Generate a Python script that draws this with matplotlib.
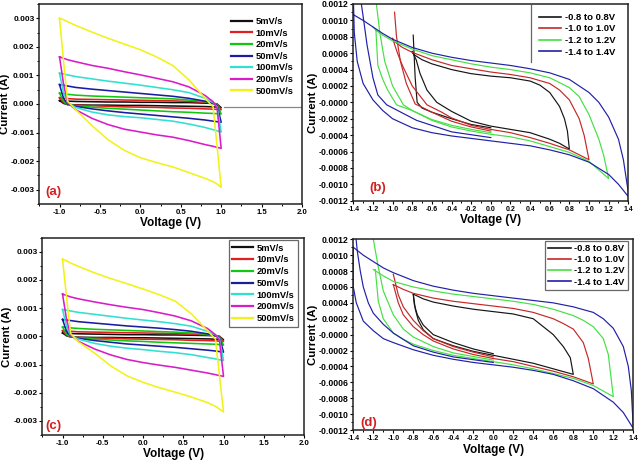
import matplotlib
matplotlib.use('Agg')
import matplotlib.pyplot as plt
from matplotlib.lines import Line2D
from matplotlib.ticker import MultipleLocator, FormatStrFormatter

plt.rcParams['font.family'] = ['Liberation Sans', 'DejaVu Sans']
plt.rcParams['font.weight'] = 'bold'
plt.rcParams['axes.labelweight'] = 'bold'
plt.rcParams['axes.unicode_minus'] = False

# ---- scan-rate panels (a) and (c); currents in mA ----
rates = ['5mV/s', '10mV/s', '20mV/s', '50mV/s', '100mV/s', '200mV/s', '500mV/s']
rate_colors = ['#101010', '#e02020', '#10c810', '#1c1ca0', '#30e0d0', '#d81cc8', '#f2f21a']
v_sweep = [-1.0, -0.95, -0.9, -0.8, -0.6, -0.4, -0.2, 0.0, 0.2, 0.4, 0.6, 0.8, 0.9, 0.95, 1.0]

a_upper = [
    [0.12, 0.11, 0.1, 0.09, 0.08, 0.07, 0.07, 0.06, 0.06, 0.05, 0.05, 0.03, 0.02, 0.0, -0.13],
    [0.22, 0.2, 0.19, 0.17, 0.16, 0.15, 0.14, 0.13, 0.12, 0.11, 0.09, 0.06, 0.03, 0.0, -0.2],
    [0.38, 0.36, 0.34, 0.31, 0.28, 0.26, 0.24, 0.22, 0.2, 0.18, 0.14, 0.08, 0.03, -0.02, -0.35],
    [0.68, 0.66, 0.63, 0.58, 0.52, 0.47, 0.42, 0.37, 0.32, 0.27, 0.2, 0.1, 0.02, -0.05, -0.64],
    [1.08, 1.05, 1.02, 0.96, 0.88, 0.8, 0.73, 0.66, 0.58, 0.5, 0.4, 0.2, 0.05, -0.1, -0.98],
    [1.65, 1.6, 1.55, 1.48, 1.35, 1.25, 1.13, 1.02, 0.9, 0.78, 0.6, 0.3, 0.08, -0.15, -1.55],
    [3.0, 2.95, 2.88, 2.75, 2.52, 2.3, 2.1, 1.9, 1.65, 1.35, 0.85, 0.2, -0.1, -1.5, -2.92],
]
a_lower = [
    [0.12, 0.02, -0.02, -0.03, -0.04, -0.04, -0.05, -0.05, -0.06, -0.07, -0.08, -0.09, -0.1, -0.11, -0.13],
    [0.22, 0.05, -0.02, -0.04, -0.06, -0.08, -0.1, -0.11, -0.12, -0.14, -0.15, -0.17, -0.18, -0.19, -0.2],
    [0.38, 0.1, -0.02, -0.06, -0.11, -0.15, -0.18, -0.21, -0.24, -0.27, -0.29, -0.32, -0.33, -0.34, -0.35],
    [0.68, 0.2, 0.0, -0.08, -0.17, -0.24, -0.3, -0.35, -0.4, -0.45, -0.5, -0.56, -0.6, -0.62, -0.64],
    [1.08, 0.4, 0.05, -0.12, -0.28, -0.38, -0.44, -0.48, -0.54, -0.6, -0.7, -0.82, -0.9, -0.94, -0.98],
    [1.65, 0.7, 0.05, -0.2, -0.5, -0.72, -0.88, -0.98, -1.08, -1.16, -1.28, -1.42, -1.48, -1.52, -1.55],
    [3.0, 1.5, 0.1, -0.2, -0.75, -1.25, -1.62, -1.88, -2.05, -2.2, -2.4, -2.6, -2.72, -2.8, -2.92],
]
c_upper = [
    [0.12, 0.11, 0.1, 0.09, 0.08, 0.07, 0.06, 0.06, 0.05, 0.05, 0.04, 0.03, 0.02, 0.0, -0.12],
    [0.2, 0.19, 0.18, 0.16, 0.15, 0.14, 0.13, 0.12, 0.11, 0.1, 0.08, 0.05, 0.03, 0.0, -0.18],
    [0.33, 0.32, 0.3, 0.28, 0.25, 0.23, 0.21, 0.19, 0.17, 0.15, 0.12, 0.07, 0.03, -0.02, -0.31],
    [0.6, 0.58, 0.56, 0.52, 0.47, 0.42, 0.37, 0.33, 0.29, 0.24, 0.18, 0.09, 0.02, -0.04, -0.56],
    [0.95, 0.93, 0.9, 0.85, 0.78, 0.71, 0.64, 0.58, 0.52, 0.45, 0.36, 0.18, 0.05, -0.08, -0.86],
    [1.5, 1.45, 1.4, 1.33, 1.22, 1.12, 1.03, 0.95, 0.84, 0.72, 0.55, 0.28, 0.06, -0.15, -1.42],
    [2.74, 2.68, 2.6, 2.48, 2.25, 2.05, 1.87, 1.68, 1.48, 1.25, 0.8, 0.2, -0.1, -1.4, -2.68],
]
c_lower = [
    [0.12, 0.02, -0.02, -0.03, -0.04, -0.04, -0.05, -0.05, -0.06, -0.07, -0.08, -0.09, -0.1, -0.11, -0.12],
    [0.2, 0.04, -0.02, -0.04, -0.06, -0.07, -0.09, -0.1, -0.11, -0.12, -0.14, -0.15, -0.16, -0.17, -0.18],
    [0.33, 0.08, -0.02, -0.05, -0.1, -0.13, -0.16, -0.18, -0.21, -0.23, -0.25, -0.27, -0.28, -0.29, -0.31],
    [0.6, 0.18, 0.0, -0.07, -0.15, -0.21, -0.27, -0.31, -0.35, -0.39, -0.44, -0.49, -0.52, -0.54, -0.56],
    [0.95, 0.35, 0.03, -0.1, -0.25, -0.35, -0.42, -0.47, -0.53, -0.58, -0.65, -0.75, -0.8, -0.83, -0.86],
    [1.5, 0.6, 0.05, -0.18, -0.45, -0.66, -0.82, -0.93, -1.02, -1.1, -1.2, -1.3, -1.36, -1.39, -1.42],
    [2.74, 1.4, 0.1, -0.2, -0.6, -1.05, -1.4, -1.63, -1.82, -1.98, -2.15, -2.35, -2.48, -2.58, -2.68],
]

# ---- potential-window panels (b) and (d); currents in mA ----
windows = ['-0.8 to 0.8V', '-1.0 to 1.0V', '-1.2 to 1.2V', '-1.4 to 1.4V']
win_colors = ['#151515', '#c42828', '#44e044', '#2020a8']

b_up_v = [
    [-0.8, -0.78, -0.7, -0.6, -0.4, -0.2, 0.0, 0.2, 0.4, 0.5, 0.6, 0.7, 0.75, 0.78, 0.8],
    [-1.0, -0.98, -0.9, -0.8, -0.6, -0.4, -0.2, 0.0, 0.2, 0.4, 0.6, 0.7, 0.8, 0.9, 0.95, 1.0],
    [-1.2, -1.17, -1.1, -1.0, -0.8, -0.6, -0.4, -0.2, 0.0, 0.2, 0.4, 0.6, 0.8, 0.9, 1.0, 1.1, 1.15, 1.2],
    [-1.4, -1.3, -1.2, -1.1, -1.0, -0.8, -0.6, -0.4, -0.2, 0.0, 0.2, 0.4, 0.6, 0.8, 1.0, 1.1, 1.2, 1.3, 1.35, 1.4],
]
b_up_i = [
    [0.62, 0.58, 0.52, 0.47, 0.40, 0.35, 0.32, 0.30, 0.26, 0.21, 0.12, -0.05, -0.2, -0.35, -0.57],
    [0.78, 0.74, 0.67, 0.61, 0.52, 0.45, 0.41, 0.37, 0.34, 0.30, 0.23, 0.15, 0.03, -0.2, -0.4, -0.70],
    [0.92, 0.88, 0.82, 0.75, 0.65, 0.57, 0.52, 0.47, 0.43, 0.40, 0.36, 0.30, 0.18, 0.07, -0.15, -0.45, -0.65, -0.93],
    [1.07, 1.0, 0.92, 0.84, 0.77, 0.67, 0.60, 0.55, 0.51, 0.48, 0.45, 0.41, 0.36, 0.28, 0.12, 0.0, -0.18, -0.45, -0.7, -1.1],
]
b_lo_v = [
    [0.8, 0.7, 0.6, 0.4, 0.2, 0.0, -0.2, -0.4, -0.55, -0.65, -0.72, -0.76, -0.8],
    [1.0, 0.8, 0.6, 0.4, 0.2, 0.0, -0.2, -0.4, -0.5, -0.65, -0.8, -0.9, -0.95, -1.0],
    [1.2, 1.0, 0.8, 0.6, 0.4, 0.2, 0.0, -0.2, -0.4, -0.6, -0.8, -0.96, -1.05, -1.1, -1.15, -1.17],
    [1.4, 1.3, 1.2, 1.0, 0.8, 0.6, 0.4, 0.2, 0.0, -0.2, -0.4, -0.6, -0.8, -1.0, -1.1, -1.2, -1.3, -1.36, -1.39, -1.4],
]
b_lo_i = [
    [-0.57, -0.50, -0.45, -0.37, -0.33, -0.29, -0.23, -0.11, 0.0, 0.15, 0.35, 0.52, 0.62],
    [-0.70, -0.58, -0.50, -0.43, -0.37, -0.33, -0.28, -0.19, -0.12, -0.03, 0.2, 0.45, 0.6, 0.78],
    [-0.93, -0.72, -0.61, -0.54, -0.47, -0.42, -0.39, -0.35, -0.30, -0.22, -0.1, -0.03, 0.15, 0.28, 0.45, 0.88],
    [-1.15, -1.0, -0.88, -0.73, -0.64, -0.58, -0.53, -0.50, -0.47, -0.44, -0.41, -0.37, -0.31, -0.2, -0.1, 0.03, 0.23, 0.5, 0.85, 1.3],
]
b_sp_v = [
    [0.0, -0.2, -0.4, -0.6, -0.7, -0.75, -0.77, -0.79],
    [0.0, -0.2, -0.4, -0.6, -0.7, -0.77, -0.86, -0.92, -0.96, -0.98],
    [0.0, -0.2, -0.4, -0.6, -0.8, -0.89, -1.0, -1.08, -1.13, -1.17],
    [0.0, -0.4, -0.755, -0.9, -1.06, -1.15, -1.2, -1.26, -1.3, -1.33],
]
b_sp_i = [
    [-0.31, -0.27, -0.2, -0.12, -0.07, 0.0, 0.3, 0.82],
    [-0.35, -0.3, -0.23, -0.12, -0.06, -0.02, 0.23, 0.5, 0.8, 1.1],
    [-0.37, -0.33, -0.28, -0.21, -0.1, -0.03, 0.2, 0.5, 0.85, 1.25],
    [-0.43, -0.36, -0.22, -0.13, -0.03, 0.09, 0.3, 0.7, 1.05, 1.3],
]

d_up_v = [
    [-0.8, -0.7, -0.6, -0.4, -0.2, 0.0, 0.2, 0.4, 0.5, 0.6, 0.7, 0.77, 0.8],
    [-1.0, -0.9, -0.8, -0.6, -0.4, -0.2, 0.0, 0.2, 0.4, 0.6, 0.7, 0.8, 0.9, 0.95, 1.0],
    [-1.2, -1.1, -1.0, -0.8, -0.6, -0.4, -0.2, 0.0, 0.2, 0.4, 0.6, 0.8, 0.9, 1.0, 1.1, 1.15, 1.2],
    [-1.4, -1.3, -1.2, -1.1, -1.0, -0.8, -0.6, -0.4, -0.2, 0.0, 0.2, 0.4, 0.6, 0.8, 1.0, 1.1, 1.2, 1.3, 1.35, 1.38, 1.4],
]
d_up_i = [
    [0.51, 0.45, 0.41, 0.36, 0.32, 0.29, 0.26, 0.20, 0.10, 0.0, -0.15, -0.29, -0.50],
    [0.63, 0.57, 0.52, 0.46, 0.42, 0.39, 0.36, 0.33, 0.28, 0.2, 0.14, 0.07, -0.1, -0.3, -0.62],
    [0.82, 0.74, 0.67, 0.6, 0.55, 0.51, 0.48, 0.45, 0.42, 0.38, 0.32, 0.24, 0.18, 0.1, -0.05, -0.25, -0.78],
    [1.1, 1.0, 0.92, 0.84, 0.78, 0.68, 0.61, 0.56, 0.52, 0.49, 0.46, 0.43, 0.4, 0.35, 0.28, 0.2, 0.08, -0.15, -0.4, -0.7, -1.18],
]
d_lo_v = [
    [0.8, 0.6, 0.4, 0.2, 0.0, -0.2, -0.4, -0.6, -0.7, -0.75, -0.78, -0.8],
    [1.0, 0.8, 0.6, 0.4, 0.2, 0.0, -0.2, -0.4, -0.6, -0.7, -0.8, -0.9, -0.95, -1.0],
    [1.2, 1.0, 0.8, 0.6, 0.4, 0.2, 0.0, -0.2, -0.4, -0.6, -0.8, -0.9, -1.0, -1.1, -1.15, -1.18],
    [1.4, 1.3, 1.2, 1.0, 0.8, 0.6, 0.4, 0.2, 0.0, -0.2, -0.4, -0.6, -0.8, -1.0, -1.1, -1.2, -1.3, -1.37, -1.4, -1.4],
]
d_lo_i = [
    [-0.50, -0.43, -0.36, -0.31, -0.26, -0.21, -0.14, -0.05, 0.06, 0.18, 0.32, 0.51],
    [-0.62, -0.53, -0.46, -0.40, -0.34, -0.30, -0.25, -0.18, -0.08, 0.0, 0.1, 0.25, 0.4, 0.63],
    [-0.78, -0.64, -0.55, -0.49, -0.43, -0.38, -0.34, -0.30, -0.26, -0.2, -0.12, -0.06, 0.02, 0.2, 0.42, 0.82],
    [-1.18, -0.98, -0.85, -0.68, -0.58, -0.5, -0.45, -0.41, -0.38, -0.35, -0.31, -0.26, -0.19, -0.1, -0.05, 0.05, 0.17, 0.4, 0.6, 1.1],
]
d_sp_v = [
    [0.0, -0.2, -0.4, -0.6, -0.7, -0.76, -0.79, -0.8],
    [0.0, -0.2, -0.4, -0.6, -0.7, -0.8, -0.9, -0.95, -1.0],
    [0.0, -0.4, -0.6, -0.8, -0.9, -1.0, -1.1, -1.15, -1.2],
    [0.0, -0.4, -0.6, -0.8, -1.0, -1.1, -1.2, -1.25, -1.3, -1.33, -1.36, -1.38],
]
d_sp_i = [
    [-0.24, -0.18, -0.1, 0.0, 0.12, 0.25, 0.38, 0.5],
    [-0.28, -0.22, -0.15, -0.05, 0.05, 0.18, 0.35, 0.5, 0.76],
    [-0.32, -0.23, -0.15, -0.03, 0.07, 0.25, 0.55, 0.85, 1.2],
    [-0.35, -0.28, -0.22, -0.14, 0.02, 0.13, 0.27, 0.4, 0.6, 0.8, 1.05, 1.3],
]

fig = plt.figure(figsize=(6.4, 4.62), dpi=100)


def px_axes(l, t, r, b):
    return fig.add_axes([l / 640, 1 - b / 462, (r - l) / 640, (b - t) / 462])


def style(ax, xfmt, yfmt, xmaj, xmin, ymaj, ymin, xfs, yfs):
    ax.xaxis.set_major_locator(MultipleLocator(xmaj))
    ax.xaxis.set_minor_locator(MultipleLocator(xmin))
    ax.yaxis.set_major_locator(MultipleLocator(ymaj))
    ax.yaxis.set_minor_locator(MultipleLocator(ymin))
    ax.xaxis.set_major_formatter(FormatStrFormatter(xfmt))
    ax.yaxis.set_major_formatter(FormatStrFormatter(yfmt))
    ax.tick_params(which='major', direction='out', length=2.5, width=0.8, pad=1)
    ax.tick_params(which='minor', direction='out', length=1.6, width=0.7)
    ax.tick_params(axis='x', labelsize=xfs)
    ax.tick_params(axis='y', labelsize=yfs)
    for s in ax.spines.values():
        s.set_linewidth(1.1)
        s.set_color('#222222')
    ax.set_xlabel('Voltage (V)', fontsize=8.5)
    ax.set_ylabel('Current (A)', fontsize=8.2)


def rate_panel(ax, upper, lower, letter, lx, ly):
    for k in range(len(rates)):
        xs = v_sweep + v_sweep[::-1]
        ys = [u * 1e-3 for u in upper[k]] + [w * 1e-3 for w in lower[k][::-1]]
        ax.plot(xs, ys, color=rate_colors[k], lw=1.15)
    ax.set_xlim(-1.25, 2.0)
    ax.set_ylim(-0.0035, 0.0035)
    style(ax, '%.1f', '%.3f', 0.5, 0.25, 0.001, 0.0005, 5.6, 6.0)
    ax.text(lx, ly, letter, transform=ax.transAxes, color='#d42020',
            fontsize=9.5, ha='left', va='center')


def window_panel(ax, up_v, up_i, lo_v, lo_i, sp_v, sp_i, letter, lx, ly):
    for k in range(len(windows)):
        ax.plot(up_v[k] + lo_v[k], [c * 1e-3 for c in up_i[k] + lo_i[k]],
                color=win_colors[k], lw=0.85)
        ax.plot(sp_v[k], [c * 1e-3 for c in sp_i[k]], color=win_colors[k], lw=0.85)
    ax.set_xlim(-1.4, 1.4)
    ax.set_ylim(-0.0012, 0.0012)
    style(ax, '%.1f', '%.4f', 0.2, 0.1, 0.0002, 0.0001, 5, 6.2)
    ax.text(lx, ly, letter, transform=ax.transAxes, color='#d42020',
            fontsize=9.5, ha='left', va='center')


rate_handles = [Line2D([], [], color=c, lw=1.6) for c in rate_colors]
win_handles = [Line2D([], [], color=c, lw=1.2) for c in win_colors]

# (a)
ax = px_axes(39.3, 4, 302, 204)
rate_panel(ax, a_upper, a_lower, '(a)', 0.022, 0.06)
ax.legend(rate_handles, rates, loc='upper left', bbox_to_anchor=(0.73, 0.935),
          frameon=False, fontsize=6.7, handlelength=2.2, handletextpad=0.4,
          labelspacing=0.28, borderaxespad=0, borderpad=0)
ax.plot([0.703, 1.0], [0.485, 0.485], transform=ax.transAxes, color='#888888', lw=0.9)
ax.xaxis.set_label_coords(0.5, -0.066)
ax.yaxis.set_label_coords(-0.11, 0.5)

# (b)
ax = px_axes(353.3, 4, 628.3, 200.7)
window_panel(ax, b_up_v, b_up_i, b_lo_v, b_lo_i, b_sp_v, b_sp_i, '(b)', 0.06, 0.063)
ax.legend(win_handles, windows, loc='upper left', bbox_to_anchor=(0.674, 0.955),
          frameon=False, fontsize=6.8, handlelength=2.4, handletextpad=0.35,
          labelspacing=0.27, borderaxespad=0, borderpad=0)
ax.plot([0.645, 0.645], [0.705, 0.995], transform=ax.transAxes, color='#666666', lw=0.9)
ax.xaxis.set_label_coords(0.5, -0.066)
ax.yaxis.set_label_coords(-0.128, 0.5)

# (c)
ax = px_axes(42.4, 237.7, 304, 435)
rate_panel(ax, c_upper, c_lower, '(c)', 0.01, 0.046)
leg = ax.legend(rate_handles, rates, loc='upper right', bbox_to_anchor=(0.976, 0.987),
                frameon=True, fancybox=False, fontsize=6.7, handlelength=2.2,
                handletextpad=0.4, labelspacing=0.3, borderaxespad=0, borderpad=0.35)
leg.get_frame().set_edgecolor('#444444')
leg.get_frame().set_linewidth(0.9)
ax.xaxis.set_label_coords(0.5, -0.066)
ax.yaxis.set_label_coords(-0.118, 0.5)

# (d)
ax = px_axes(353.3, 239.3, 633.3, 430)
window_panel(ax, d_up_v, d_up_i, d_lo_v, d_lo_i, d_sp_v, d_sp_i, '(d)', 0.024, 0.038)
leg = ax.legend(win_handles, windows, loc='upper right', bbox_to_anchor=(0.982, 0.991),
                frameon=True, fancybox=False, fontsize=6.8, handlelength=2.4,
                handletextpad=0.35, labelspacing=0.22, borderaxespad=0, borderpad=0.35)
leg.get_frame().set_edgecolor('#444444')
leg.get_frame().set_linewidth(0.9)
ax.xaxis.set_label_coords(0.5, -0.075)
ax.yaxis.set_label_coords(-0.126, 0.5)

plt.savefig('out.png', dpi=100)
print('figure saved')
